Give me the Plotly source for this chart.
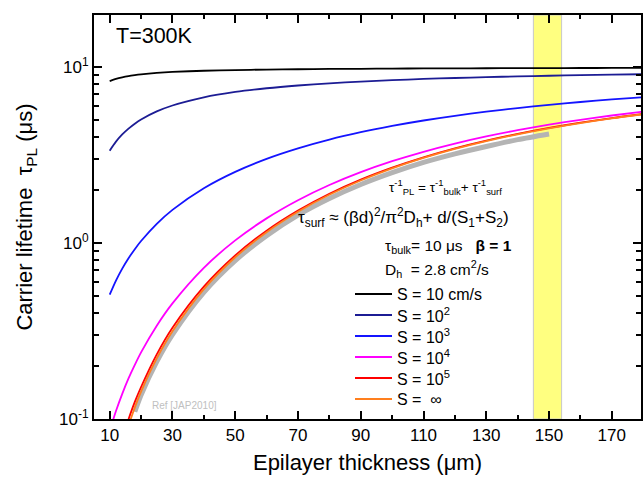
import plotly.graph_objects as go

# ---------------- data ----------------
thickness = [10, 12, 14, 16, 18, 20, 25, 30, 40, 50, 60, 70, 80, 90, 100,
             110, 120, 130, 140, 150, 160, 170, 180]

tau_S10 = [8.33, 8.57, 8.75, 8.89, 9.00, 9.09, 9.26, 9.38, 9.53, 9.62, 9.68, 9.72,
           9.76, 9.78, 9.81, 9.82, 9.84, 9.85, 9.86, 9.87, 9.88, 9.885, 9.89]
tau_S1e2 = [3.35, 3.77, 4.14, 4.47, 4.77, 5.04, 5.60, 6.05, 6.73, 7.22, 7.58, 7.86,
            8.09, 8.27, 8.43, 8.56, 8.67, 8.77, 8.85, 8.93, 8.99, 9.05, 9.11]
tau_S1e3 = [0.509, 0.612, 0.716, 0.820, 0.923, 1.027, 1.286, 1.544, 2.050, 2.540,
            3.009, 3.453, 3.871, 4.263, 4.629, 4.970, 5.286, 5.579, 5.850, 6.102,
            6.334, 6.547, 6.745]
tau_S1e4 = [0.0855, 0.111, 0.139, 0.170, 0.203, 0.239, 0.339, 0.454, 0.723, 1.035,
            1.381, 1.751, 2.136, 2.527, 2.917, 3.301, 3.675, 4.036, 4.380, 4.707,
            5.016, 5.307, 5.583]
tau_S1e5 = [0.0410, 0.0578, 0.0773, 0.0996, 0.125, 0.152, 0.233, 0.330, 0.565, 0.850,
            1.176, 1.531, 1.907, 2.294, 2.684, 3.072, 3.452, 3.820, 4.173, 4.511,
            4.830, 5.133, 5.416]
tau_Sinf = [0.0361, 0.0518, 0.0704, 0.0917, 0.116, 0.143, 0.221, 0.315, 0.547, 0.830,
            1.153, 1.506, 1.881, 2.267, 2.657, 3.045, 3.426, 3.795, 4.150, 4.488,
            4.809, 5.112, 5.397]

ref_thickness = [18, 20, 25, 30, 40, 50, 60, 70, 80, 90, 100, 110, 120, 130, 140, 150]
ref_tau = [0.110, 0.137, 0.212, 0.302, 0.525, 0.795, 1.10, 1.44, 1.79, 2.15, 2.51,
           2.87, 3.21, 3.54, 3.87, 4.17]

series_names = ["S = 10 cm/s", "S = 10<sup>2</sup>", "S = 10<sup>3</sup>",
                "S = 10<sup>4</sup>", "S = 10<sup>5</sup>", "S =  \u221e"]
series_values = [tau_S10, tau_S1e2, tau_S1e3, tau_S1e4, tau_S1e5, tau_Sinf]
series_colors = ["#000000", "#1c1c94", "#1414ff", "#ff00ff", "#ff0000", "#ff7f1e"]

band = [145, 154]

x_tickvals = [10, 30, 50, 70, 90, 110, 130, 150, 170]
y_tickvals = [0.1, 1, 10]
y_ticktext = ["10<sup>-1</sup>", "10<sup>0</sup>", "10<sup>1</sup>"]
y_minor = [0.2, 0.3, 0.4, 0.5, 0.6, 0.7, 0.8, 0.9,
           2, 3, 4, 5, 6, 7, 8, 9]

FONT = "Arial, Liberation Sans, sans-serif"

W, H = 643, 479
L, R, T, B = 94, 2, 15, 60
pw, ph = W - L - R, H - T - B


def px(x):
    return (x - L) / pw


def py(y):
    return (H - B - y) / ph


fig = go.Figure()

fig.add_trace(go.Scatter(x=ref_thickness, y=ref_tau, mode="lines",
                         line=dict(color="#b4b4b4", width=5, shape="spline", smoothing=0.8),
                         showlegend=False, hoverinfo="skip"))

for name, vals, col in zip(series_names, series_values, series_colors):
    fig.add_trace(go.Scatter(x=thickness, y=vals, mode="lines", name=name,
                             showlegend=False,
                             line=dict(color=col, width=1.8, shape="spline", smoothing=0.8)))

fig.add_shape(type="rect", xref="x", yref="paper", x0=band[0], x1=band[1], y0=0, y1=1,
              fillcolor="#ffff80", line=dict(color="#c8c8c8", width=1), layer="below")

annots = [
    dict(text="T=300K", x=px(114), y=py(36), xanchor="left", yanchor="middle",
         font=dict(size=21.5)),
    dict(text="\u03c4<sup>-1</sup><sub>PL</sub> = \u03c4<sup>-1</sup><sub>bulk</sub>+ \u03c4<sup>-1</sup><sub>surf</sub>",
         x=px(504), y=py(187), xanchor="right", yanchor="middle", font=dict(size=13.5)),
    dict(text="\u03c4<sub>surf</sub> \u2248 (\u03b2d)<sup>2</sup>/\u03c0<sup>2</sup>D<sub>h</sub>+ d/(S<sub>1</sub>+S<sub>2</sub>)",
         x=px(511), y=py(217), xanchor="right", yanchor="middle", font=dict(size=17)),
    dict(text="\u03c4<sub>bulk</sub>= 10 \u03bcs   <b>\u03b2 = 1</b>",
         x=px(383), y=py(246), xanchor="left", yanchor="middle", font=dict(size=15.5)),
    dict(text="D<sub>h</sub>  = 2.8 cm<sup>2</sup>/s",
         x=px(383), y=py(269), xanchor="left", yanchor="middle", font=dict(size=15.5)),
    dict(text="Ref [JAP2010]", x=px(150), y=py(405), xanchor="left", yanchor="middle",
         font=dict(size=10, color="#c0c0c0")),
]

# legend block (line samples + labels)
for i, (name, col) in enumerate(zip(series_names, series_colors)):
    yrow = 294 + 21 * i
    fig.add_shape(type="line", xref="paper", yref="paper",
                  x0=px(355), x1=px(392), y0=py(yrow), y1=py(yrow),
                  line=dict(color=col, width=1.8))
    annots.append(dict(text=name, x=px(395), y=py(yrow), xanchor="left",
                       yanchor="middle", font=dict(size=16)))

for a in annots:
    a.update(xref="paper", yref="paper", showarrow=False)
    a["font"].setdefault("color", "#000000")
    a["font"]["family"] = FONT

fig.update_layout(
    width=W, height=H,
    margin=dict(l=L, r=R, t=T, b=B),
    paper_bgcolor="white", plot_bgcolor="white",
    font=dict(family=FONT, color="#000000"),
    annotations=annots,
    showlegend=False,
)

fig.update_xaxes(range=[5, 179.3], showgrid=False, zeroline=False, automargin=False,
                 showline=True, linecolor="black", linewidth=2, mirror="ticks",
                 ticks="inside", ticklen=8, tickwidth=1.5, tickcolor="black",
                 tickvals=x_tickvals, tickfont=dict(size=17),
                 minor=dict(dtick=10, tick0=0, ticks="inside", ticklen=4,
                            tickwidth=1.5, tickcolor="black", showgrid=False),
                 title=dict(text="Epilayer thickness (\u03bcm)", font=dict(size=22),
                            standoff=10))

fig.update_yaxes(type="log", range=[-1, 1.296], showgrid=False, zeroline=False,
                 automargin=False,
                 showline=True, linecolor="black", linewidth=2, mirror="ticks",
                 ticks="inside", ticklen=8, tickwidth=1.5, tickcolor="black",
                 tickvals=y_tickvals, ticktext=y_ticktext, tickfont=dict(size=17),
                 minor=dict(tickvals=y_minor, ticks="inside", ticklen=5,
                            tickwidth=1.5, tickcolor="black", showgrid=False),
                 title=dict(text="Carrier lifetime  \u03c4<sub>PL</sub> (\u03bcs)",
                            font=dict(size=22), standoff=20))

fig.write_html("out.html", config={"displayModeBar": False},
               post_script="document.body.style.margin='0';document.body.style.overflow='hidden';")
